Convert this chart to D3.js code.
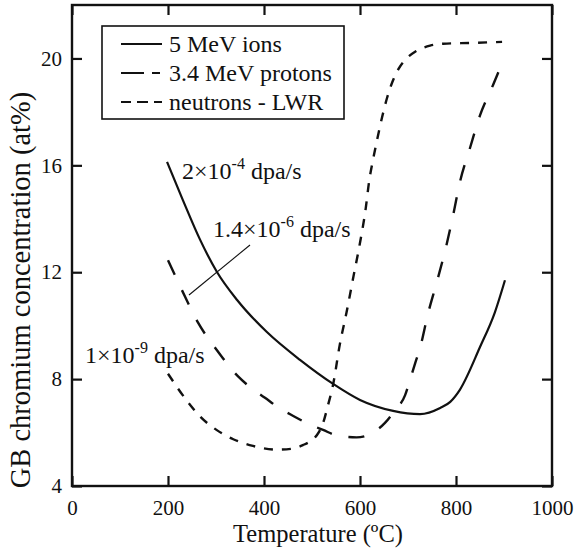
<!DOCTYPE html>
<html>
<head>
<meta charset="utf-8">
<script src="https://cdn.jsdelivr.net/npm/d3@7/dist/d3.min.js"></script>
<style>
  html, body { margin: 0; padding: 0; background: #fff; }
  svg text { font-family: "Liberation Serif", "Times New Roman", serif; fill: #111; }
</style>
</head>
<body>
<svg id="chart" width="581" height="552"></svg>
<script>
// ---- data ----
const ionsTemp = [198, 231, 267, 302, 344, 406, 475, 544, 600, 669, 725, 767, 788, 808, 850, 881, 902];
const ionsCr   = [16.13, 14.7, 13.21, 12.01, 10.96, 9.76, 8.72, 7.82, 7.22, 6.81, 6.69, 6.92, 7.15, 7.6, 9.2, 10.5, 11.7];

const protonTemp = [200, 229, 262, 302, 346, 371, 402, 429, 461, 490, 523, 554, 593, 625, 652, 673, 694, 704, 715, 725, 742, 760, 779, 794, 808, 829, 850, 877, 898];
const protonCr   = [12.45, 11.33, 10.13, 9.08, 8.1, 7.7, 7.3, 6.95, 6.62, 6.35, 6.1, 5.88, 5.82, 5.98, 6.36, 6.84, 7.4, 7.96, 8.6, 9.16, 10.47, 11.63, 12.93, 14.13, 15.36, 16.64, 17.87, 19.0, 19.9];

const neutronTemp = [200, 239, 267, 301, 336, 377, 427, 460, 481, 500, 510, 523, 533, 544, 558, 572, 587, 600, 612, 619, 627, 635, 646, 656, 667, 680, 700, 715, 746, 773, 830, 896];
const neutronCr   = [8.2, 7.2, 6.6, 6.1, 5.75, 5.5, 5.36, 5.4, 5.53, 5.72, 5.9, 6.35, 7.0, 7.8, 9.3, 10.5, 11.9, 13.1, 14.4, 15.4, 16.2, 16.9, 17.8, 18.5, 19.1, 19.6, 20.05, 20.25, 20.48, 20.55, 20.58, 20.62];

const xTicks = [0, 200, 400, 600, 800, 1000];
const yTicks = [4, 8, 12, 16, 20];
const seriesNames = ["5 MeV ions", "3.4 MeV protons", "neutrons - LWR"];

// ---- layout ----
const svg = d3.select("#chart");
const L = 72, R = 552, T = 5, B = 486;
const x = d3.scaleLinear().domain([0, 1000]).range([L, R]);
const y = d3.scaleLinear().domain([4, 22]).range([B, T]);
const serif = '"Liberation Serif", "Times New Roman", serif';

// frame
svg.append("rect").attr("x", L).attr("y", T).attr("width", R - L).attr("height", B - T)
  .attr("fill", "none").attr("stroke", "#111").attr("stroke-width", 2.4);

// axes with inward ticks
const tickLen = 10;
const gxB = svg.append("g").attr("transform", `translate(0,${B})`)
  .call(d3.axisBottom(x).tickValues(xTicks).tickSize(-tickLen).tickPadding(14).tickFormat(d3.format("d")));
const gxT = svg.append("g").attr("transform", `translate(0,${T})`)
  .call(d3.axisTop(x).tickValues(xTicks).tickSize(-tickLen).tickFormat(""));
const gyL = svg.append("g").attr("transform", `translate(${L},0)`)
  .call(d3.axisLeft(y).tickValues(yTicks).tickSize(-tickLen).tickPadding(10).tickFormat(d3.format("d")));
const gyR = svg.append("g").attr("transform", `translate(${R},0)`)
  .call(d3.axisRight(y).tickValues(yTicks).tickSize(-tickLen).tickFormat(""));
[gxB, gxT, gyL, gyR].forEach(g => {
  g.attr("font-family", serif);
  g.select(".domain").remove();
  g.selectAll(".tick line").attr("stroke", "#111").attr("stroke-width", 2.2);
  g.selectAll(".tick text").attr("font-size", 21).attr("fill", "#111").style("font-family", serif);
});

// axis titles
svg.append("text").attr("x", 318).attr("y", 542).attr("text-anchor", "middle")
  .attr("font-size", 24.5).text("Temperature (ºC)");
svg.append("text").attr("transform", "translate(30,290) rotate(-90)").attr("text-anchor", "middle")
  .attr("font-size", 28.5).text("GB chromium concentration (at%)");

// curves
const line = d3.line().x(d => x(d[0])).y(d => y(d[1])).curve(d3.curveMonotoneX);
const zip = (a, b) => a.map((v, i) => [v, b[i]]);
svg.append("path").datum(zip(ionsTemp, ionsCr)).attr("d", line)
  .attr("fill", "none").attr("stroke", "#111").attr("stroke-width", 2.2);
svg.append("path").datum(zip(protonTemp, protonCr)).attr("d", line)
  .attr("fill", "none").attr("stroke", "#111").attr("stroke-width", 2.4).attr("stroke-dasharray", "16,17");
svg.append("path").datum(zip(neutronTemp, neutronCr)).attr("d", line)
  .attr("fill", "none").attr("stroke", "#111").attr("stroke-width", 2.4).attr("stroke-dasharray", "9,9");

// legend
svg.append("rect").attr("x", 102).attr("y", 26).attr("width", 242).attr("height", 93)
  .attr("fill", "#fff").attr("stroke", "#111").attr("stroke-width", 1.6);
const legendDash = [null, "23,8,8,20", "10,6,11,6,11"];
const legendY = [44, 73, 102];
seriesNames.forEach((name, i) => {
  svg.append("line").attr("x1", 121).attr("x2", 162).attr("y1", legendY[i]).attr("y2", legendY[i])
    .attr("stroke", "#111").attr("stroke-width", 2.2)
    .attr("stroke-dasharray", legendDash[i]);
  svg.append("text").attr("x", 169).attr("y", legendY[i] + 8).attr("font-size", 24).text(name);
});

// annotations
function rateLabel(xp, yp, mant, exp) {
  const t = svg.append("text").attr("x", xp).attr("y", yp).attr("font-size", 24);
  t.append("tspan").text(mant + "\u00d710");
  t.append("tspan").attr("font-size", 16).attr("dy", -10).text(exp);
  t.append("tspan").attr("dy", 10).text(" dpa/s");
}
rateLabel(182, 179, "2", "-4");
rateLabel(213, 237, "1.4", "-6");
rateLabel(85, 363, "1", "-9");
svg.append("line").attr("x1", 250).attr("y1", 245).attr("x2", 189).attr("y2", 295)
  .attr("stroke", "#111").attr("stroke-width", 1.1);
</script>
</body>
</html>
